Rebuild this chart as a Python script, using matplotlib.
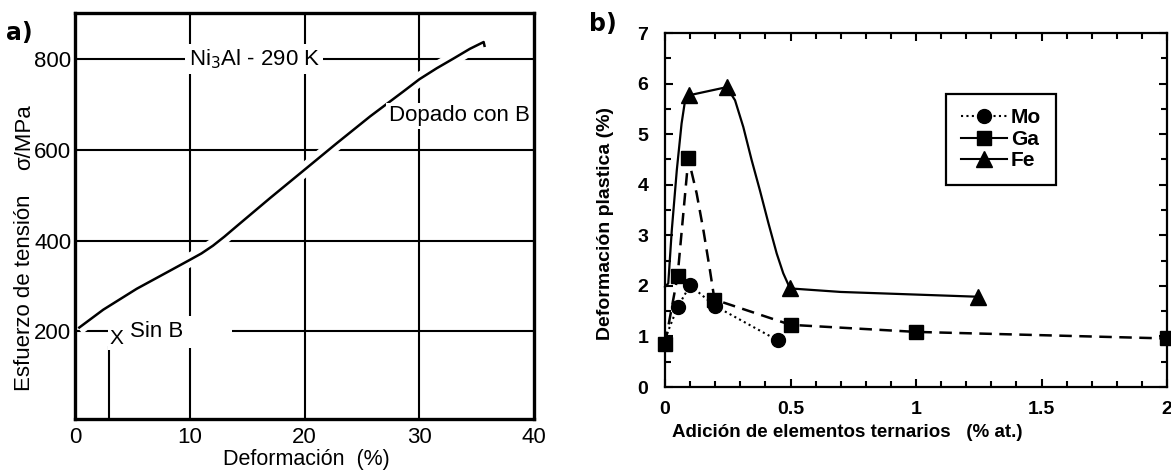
import matplotlib
matplotlib.use("Agg")
import matplotlib.pyplot as plt
import matplotlib.patheffects as pe
from matplotlib.lines import Line2D
from matplotlib.ticker import MultipleLocator

plt.rcParams['font.family'] = ['Liberation Sans', 'DejaVu Sans']

# a) Ni3Al a 290 K: curva esfuerzo-deformacion del material dopado con B
strain_b = [0.26, 2.44, 5.35, 8.26, 10.0, 11.0, 12.0, 13.0, 14.07, 16.98, 20.3, 22.8, 25.7,
            28.6, 30.0, 31.5, 33.0, 34.4, 35.6, 35.7]
stress_b = [207, 248, 294, 334, 358, 372, 389, 409, 432, 494, 563, 615, 674,
            729, 756, 780, 802, 823, 838, 827]
# sin B: rotura fragil
strain_nob = 2.9
stress_nob = 167
grid_x = [10, 20, 30]
grid_y = [200, 400, 600, 800]
xticks_a = [0, 10, 20, 30, 40]
yticks_a = [200, 400, 600, 800]

# b) deformacion plastica frente a la adicion de elementos ternarios
mo_x = [0.0, 0.05, 0.10, 0.20, 0.45]
mo_y = [0.95, 1.58, 2.01, 1.60, 0.92]
mo_marks = [1, 2, 3, 4]
ga_x = [0.0, 0.05, 0.093, 0.126, 0.153, 0.179, 0.197, 0.50, 1.0, 2.0]
ga_y = [0.85, 2.19, 4.52, 3.83, 3.10, 2.31, 1.73, 1.23, 1.09, 0.96]
ga_marks = [0, 1, 2, 6, 7, 8, 9]
fe_x = [0.0, 0.013, 0.027, 0.047, 0.066, 0.080, 0.097, 0.246, 0.279, 0.312, 0.345,
        0.378, 0.412, 0.445, 0.471, 0.498, 0.70, 1.248]
fe_y = [1.98, 2.05, 3.10, 4.29, 5.21, 5.67, 5.77, 5.93, 5.67, 5.14, 4.49,
        3.89, 3.24, 2.64, 2.25, 1.95, 1.88, 1.785]
fe_marks = [6, 7, 15, 17]

fig = plt.figure(figsize=(11.71, 4.71), dpi=100)

# ---------------- panel a ----------------
ax1 = fig.add_axes([0.0643, 0.1104, 0.3918, 0.862])
ax1.set_xlim(0, 40)
ax1.set_ylim(7, 902)
for gx in grid_x:
    ax1.axvline(gx, color='black', lw=1.5, zorder=1)
for gy in grid_y:
    ax1.axhline(gy, color='black', lw=1.5, zorder=1)

halo = [pe.Stroke(linewidth=10, foreground='white'), pe.Normal()]
ax1.plot(strain_b, stress_b, color='black', lw=1.8, zorder=2,
         path_effects=halo, solid_capstyle='butt', solid_joinstyle='round')
ax1.vlines(strain_nob, 7, stress_nob, color='black', lw=1.5, zorder=2)

ax1.text(15.6, 800, 'Ni$_3$Al - 290 K', fontsize=16, ha='center', va='center',
         zorder=3, bbox=dict(fc='white', ec='none', boxstyle='square,pad=0.15'))
ax1.text(39.6, 675, 'Dopado con B', fontsize=16, ha='right', va='center',
         zorder=3, bbox=dict(fc='white', ec='none', boxstyle='square,pad=0.1'))
ax1.annotate('X', (strain_nob, stress_nob), xytext=(6, 6), textcoords='offset points',
             fontsize=15, ha='center', va='center', zorder=3,
             bbox=dict(fc='white', ec='none', boxstyle='square,pad=0.1'))
ax1.text(4.8, 199, 'Sin B       ', fontsize=16, ha='left', va='center', zorder=3,
         bbox=dict(fc='white', ec='none', boxstyle='square,pad=0.25'))

ax1.set_xticks(xticks_a)
ax1.set_yticks(yticks_a)
ax1.tick_params(length=0, labelsize=16)
ax1.tick_params(axis='x', pad=6)
ax1.tick_params(axis='y', pad=3)
for s in ax1.spines.values():
    s.set_linewidth(2.4)
    s.set_zorder(4)
fig.text(0.262, 1 / 471, 'Deformación  (%)', fontsize=15.5, ha='center', va='bottom')
ax1.text(-0.111, 0.31, 'Esfuerzo de tensión', rotation=90, fontsize=16,
         ha='center', va='center', transform=ax1.transAxes)
ax1.text(-0.111, 0.695, 'σ/MPa', rotation=90, fontsize=16,
         ha='center', va='center', transform=ax1.transAxes)
fig.text(19 / 1171, 1 - 33 / 471, 'a)', fontsize=17, fontweight='black',
         family='DejaVu Sans', ha='center', va='center')

# ---------------- panel b ----------------
ax2 = fig.add_axes([0.5679, 0.1783, 0.4287, 0.7516])
ax2.set_xlim(0, 2)
ax2.set_ylim(0, 7)

ax2.plot(mo_x, mo_y, color='black', lw=1.5, ls=(0, (1, 1.6)), marker='o',
         ms=10, markevery=mo_marks, clip_on=False, zorder=3)
ax2.plot(ga_x, ga_y, color='black', lw=1.8, ls=(0, (5, 3)), marker='s',
         ms=9.5, markevery=ga_marks, clip_on=False, zorder=4)
ax2.plot(fe_x, fe_y, color='black', lw=1.6, ls='-', marker='^',
         ms=11, markevery=fe_marks, clip_on=False, zorder=5,
         solid_joinstyle='round')

ax2.xaxis.set_major_locator(MultipleLocator(0.5))
ax2.xaxis.set_minor_locator(MultipleLocator(0.1))
ax2.yaxis.set_major_locator(MultipleLocator(1))
ax2.yaxis.set_minor_locator(MultipleLocator(0.5))
ax2.xaxis.set_major_formatter(plt.FuncFormatter(lambda v, p: f'{v:g}'))
ax2.tick_params(which='both', direction='in', top=True, right=True, width=1.5,
                labelsize=14)
ax2.tick_params(which='major', length=6)
ax2.tick_params(which='minor', length=4)
ax2.tick_params(axis='x', which='both', pad=10)
ax2.tick_params(axis='y', which='both', pad=12)
for lbl in ax2.get_xticklabels() + ax2.get_yticklabels():
    lbl.set_fontweight('bold')
for s in ax2.spines.values():
    s.set_linewidth(1.6)

ax2.text(0.364, -0.105, 'Adición de elementos ternarios   (% at.)', fontsize=13.5,
         fontweight='bold', ha='center', va='top', transform=ax2.transAxes)
ax2.text(-0.118, 0.463, 'Deformación plastica (%)', rotation=90, fontsize=14,
         fontweight='bold', ha='center', va='center', transform=ax2.transAxes)

handles = [
    Line2D([], [], color='black', lw=1.5, ls=(0, (1, 1.6)), marker='o', ms=10),
    Line2D([], [], color='black', lw=1.5, ls='-', marker='s', ms=9.5),
    Line2D([], [], color='black', lw=1.5, ls='-', marker='^', ms=11),
]
leg = ax2.legend(handles, ['Mo', 'Ga', 'Fe'], loc='upper left',
                 bbox_to_anchor=(0.56, 0.828), fancybox=False, framealpha=1,
                 edgecolor='black', prop=dict(size=15, weight='bold'),
                 handlelength=2.2, handletextpad=0.2, labelspacing=0.12,
                 borderpad=0.7, borderaxespad=0)
leg.get_frame().set_linewidth(1.6)
fig.text(603 / 1171, 1 - 24 / 471, 'b)', fontsize=17, fontweight='black',
         family='DejaVu Sans', ha='center', va='center')

fig.savefig('out.png', dpi=100)
